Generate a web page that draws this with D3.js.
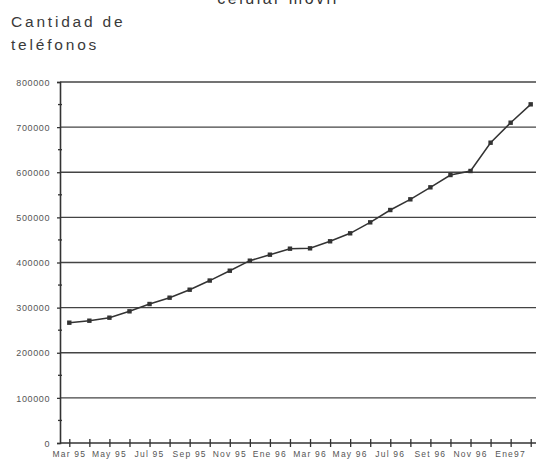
<!DOCTYPE html>
<html><head><meta charset="utf-8">
<script src="https://cdn.jsdelivr.net/npm/d3@7"></script>
<style>body{margin:0;background:#fff}svg{display:block}</style>
</head><body><svg id="c" width="536" height="462"></svg>
<script>
const months = ["Mar 95","Abr 95","May 95","Jun 95","Jul 95","Ago 95","Sep 95","Oct 95","Nov 95","Dic 95","Ene 96","Feb 96","Mar 96","Abr 96","May 96","Jun 96","Jul 96","Ago 96","Set 96","Oct 96","Nov 96","Dic 96","Ene97","Feb97"];
const phones = [266600,271000,277700,291800,308000,322000,339700,360000,381800,404000,417300,430600,431400,447000,464700,489000,516300,540000,566600,593900,602800,665500,709800,750500];
const tickLabels = ["Mar 95","May 95","Jul 95","Sep 95","Nov 95","Ene 96","Mar 96","May 96","Jul 96","Set 96","Nov 96","Ene97"];
const yTicks = [0,100000,200000,300000,400000,500000,600000,700000,800000];
const yMinor = [50000,150000,250000,350000,450000,550000,650000,750000];

const svg = d3.select("#c");
const x = d3.scalePoint().domain(months).range([69.3, 530.7]);
const y = d3.scaleLinear().domain([0, 800000]).range([443, 82]);
const axisX = 60, right = 536;
const font = "Liberation Sans, Arial, sans-serif";

// title (cut off at top, as in the reference)
svg.append("text").attr("x", 278).attr("y", 4).attr("text-anchor","middle")
  .attr("font-family",font).attr("font-size",16)
  .attr("letter-spacing","2.5px").attr("fill","#333").text("celular móvil");
svg.append("text").attr("x", 11).attr("y", 27)
  .attr("font-family",font).attr("font-size",15.5)
  .attr("letter-spacing","2.8px").attr("fill","#3a3a3a").text("Cantidad de");
svg.append("text").attr("x", 11).attr("y", 50)
  .attr("font-family",font).attr("font-size",15.5)
  .attr("letter-spacing","2.8px").attr("fill","#3a3a3a").text("teléfonos");

// gridlines
svg.append("g").selectAll("line").data(yTicks.filter(d => d > 0)).join("line")
  .attr("x1", axisX).attr("x2", right).attr("y1", d => y(d)).attr("y2", d => y(d))
  .attr("stroke","#444").attr("stroke-width",1.4);

// y axis
const ya = svg.append("g").attr("transform", `translate(${axisX},0)`)
  .call(d3.axisLeft(y).tickValues(yTicks).tickFormat(d3.format("d")).tickSize(3).tickPadding(7));
ya.select(".domain").attr("stroke","#333").attr("stroke-width",1.6);
ya.selectAll(".tick line").attr("stroke","#333").attr("stroke-width",1.3);
ya.selectAll("text").attr("font-family",font).attr("font-size",9)
  .attr("letter-spacing","0.6px").attr("fill","#555").attr("dy","0.35em");
svg.append("g").selectAll("line").data(yMinor).join("line")
  .attr("x1", axisX-2).attr("x2", axisX+2).attr("y1", d => y(d)).attr("y2", d => y(d))
  .attr("stroke","#333").attr("stroke-width",1.3);

// x axis
const xa = svg.append("g").attr("transform", `translate(0,${y(0)})`)
  .call(d3.axisBottom(x).tickSizeInner(4).tickSizeOuter(0).tickFormat(() => ""));
xa.select(".domain").attr("d", `M${axisX},0H${right}`).attr("stroke","#333").attr("stroke-width",1.6);
xa.selectAll(".tick line").attr("y1",-4).attr("y2",4).attr("stroke","#333").attr("stroke-width",1.3);
svg.append("g").selectAll("text").data(tickLabels).join("text")
  .attr("x", d => x(d)).attr("y", 457).attr("text-anchor","middle")
  .attr("font-family",font).attr("font-size",8.5)
  .attr("letter-spacing","1.2px").attr("fill","#555").text(d => d);

// line
const data = months.map((m,i) => ({m, v: phones[i]}));
svg.append("path").datum(data)
  .attr("d", d3.line().x(d => x(d.m)).y(d => y(d.v)))
  .attr("fill","none").attr("stroke","#333").attr("stroke-width",1.5);
svg.append("g").selectAll("rect").data(data).join("rect")
  .attr("x", d => x(d.m)-2.2).attr("y", d => y(d.v)-2.2).attr("width",4.4).attr("height",4.4)
  .attr("fill","#333");
</script></body></html>
